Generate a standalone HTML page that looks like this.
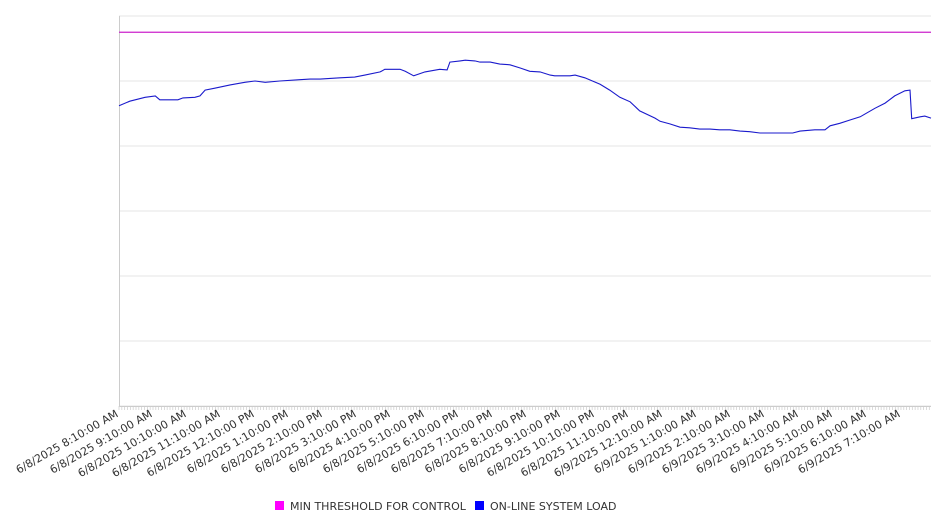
<!DOCTYPE html>
<html><head><meta charset="utf-8"><style>
body{margin:0;background:#fff;font-family:"Liberation Sans","DejaVu Sans",sans-serif}
svg text{font-family:"DejaVu Sans","Liberation Sans",sans-serif}
</style></head><body>
<svg id="chart" width="946" height="526" viewBox="0 0 946 526" xmlns="http://www.w3.org/2000/svg">
<g id="grid"></g><g id="axes"></g><g id="series"></g><g id="labels"></g>
<g>
<g><rect x="275" y="501" width="9" height="9" fill="#ff00ff"/><text x="290" y="510" font-size="11" fill="#333">MIN THRESHOLD FOR CONTROL</text></g>
<g><rect x="475" y="501" width="9" height="9" fill="#0000ff"/><text x="490" y="510" font-size="11" fill="#333">ON-LINE SYSTEM LOAD</text></g>
</g>
</svg>
<script>
const minutes=[0,19,46,64,72,90,104,113,134,143,152,169,196,222,240,258,284,319,337,355,390,416,434,461,469,496,505,520,540,566,579,584,602,611,628,637,655,672,690,708,725,743,761,769,796,805,822,849,866,884,902,919,946,955,972,990,1007,1025,1043,1060,1078,1096,1113,1131,1149,1166,1189,1202,1228,1246,1255,1272,1290,1308,1316,1334,1352,1369,1387,1396,1399,1414,1422,1433];
const loadValues=[462,469,475,477,471,471,471,474,475,477,486,489,494,498,500,498,500,502,503,503,505,506,509,514,518,518,515,508,514,518,517,529,531,532,531,529,529,526,525,520,515,514,509,508,508,509,505,495,486,475,468,454,443,438,434,429,428,426,426,425,425,423,422,420,420,420,420,423,425,425,431,435,440,445,449,458,466,477,485,486,442,445,446,443];
const thresholdValue=575;
const tickLabels=["6/8/2025 8:10:00 AM","6/8/2025 9:10:00 AM","6/8/2025 10:10:00 AM","6/8/2025 11:10:00 AM","6/8/2025 12:10:00 PM","6/8/2025 1:10:00 PM","6/8/2025 2:10:00 PM","6/8/2025 3:10:00 PM","6/8/2025 4:10:00 PM","6/8/2025 5:10:00 PM","6/8/2025 6:10:00 PM","6/8/2025 7:10:00 PM","6/8/2025 8:10:00 PM","6/8/2025 9:10:00 PM","6/8/2025 10:10:00 PM","6/8/2025 11:10:00 PM","6/9/2025 12:10:00 AM","6/9/2025 1:10:00 AM","6/9/2025 2:10:00 AM","6/9/2025 3:10:00 AM","6/9/2025 4:10:00 AM","6/9/2025 5:10:00 AM","6/9/2025 6:10:00 AM","6/9/2025 7:10:00 AM"];
const X0=119,X1=931,Y0=406,Y1=16,XMAX=1433,YMAX=600;
const xs=m=>X0+(m/XMAX)*(X1-X0);
const ys=v=>Y0-(v/YMAX)*(Y0-Y1);
const NS="http://www.w3.org/2000/svg";
function mk(t,a,p){const e=document.createElementNS(NS,t);for(const k in a)e.setAttribute(k,a[k]);p.appendChild(e);return e;}
const grid=document.getElementById('grid'),axes=document.getElementById('axes'),series=document.getElementById('series'),labels=document.getElementById('labels');
for(let v=0;v<=YMAX;v+=100){const l=mk('line',{x1:X0,x2:X1,y1:ys(v),y2:ys(v),stroke:'#e6e6e6','stroke-width':1},grid);

}
const ax=mk('line',{x1:X0+0.5,x2:X0+0.5,y1:Y1,y2:Y0,stroke:'#ccc'},axes);


const bx=mk('line',{x1:X0,x2:X1,y1:Y0+0.5,y2:Y0+0.5,stroke:'#ccc'},axes);


for(let m=0;m<=XMAX;m+=5){const t=mk('line',{x1:xs(m),x2:xs(m),y1:Y0,y2:Y0+4,stroke:'#ccc','stroke-width':0.7},axes);

}
tickLabels.forEach((s,i)=>{const x=xs(i*60),y=Y0+10;
const t=mk('text',{x:x,y:y,'font-size':11,fill:'#333','text-anchor':'end',transform:`rotate(-30 ${x} ${y})`},labels);
t.textContent=s;

});
const th=mk('line',{x1:X0,x2:X1,y1:ys(thresholdValue),y2:ys(thresholdValue),stroke:'#cc22cc','stroke-width':1.2},series);


const pts=minutes.map((m,i)=>xs(m).toFixed(1)+','+ys(loadValues[i]).toFixed(1)).join(' ');
const pl=mk('polyline',{points:pts,fill:'none',stroke:'#1a1acc','stroke-width':1.1},series);


</script>
</body></html>
